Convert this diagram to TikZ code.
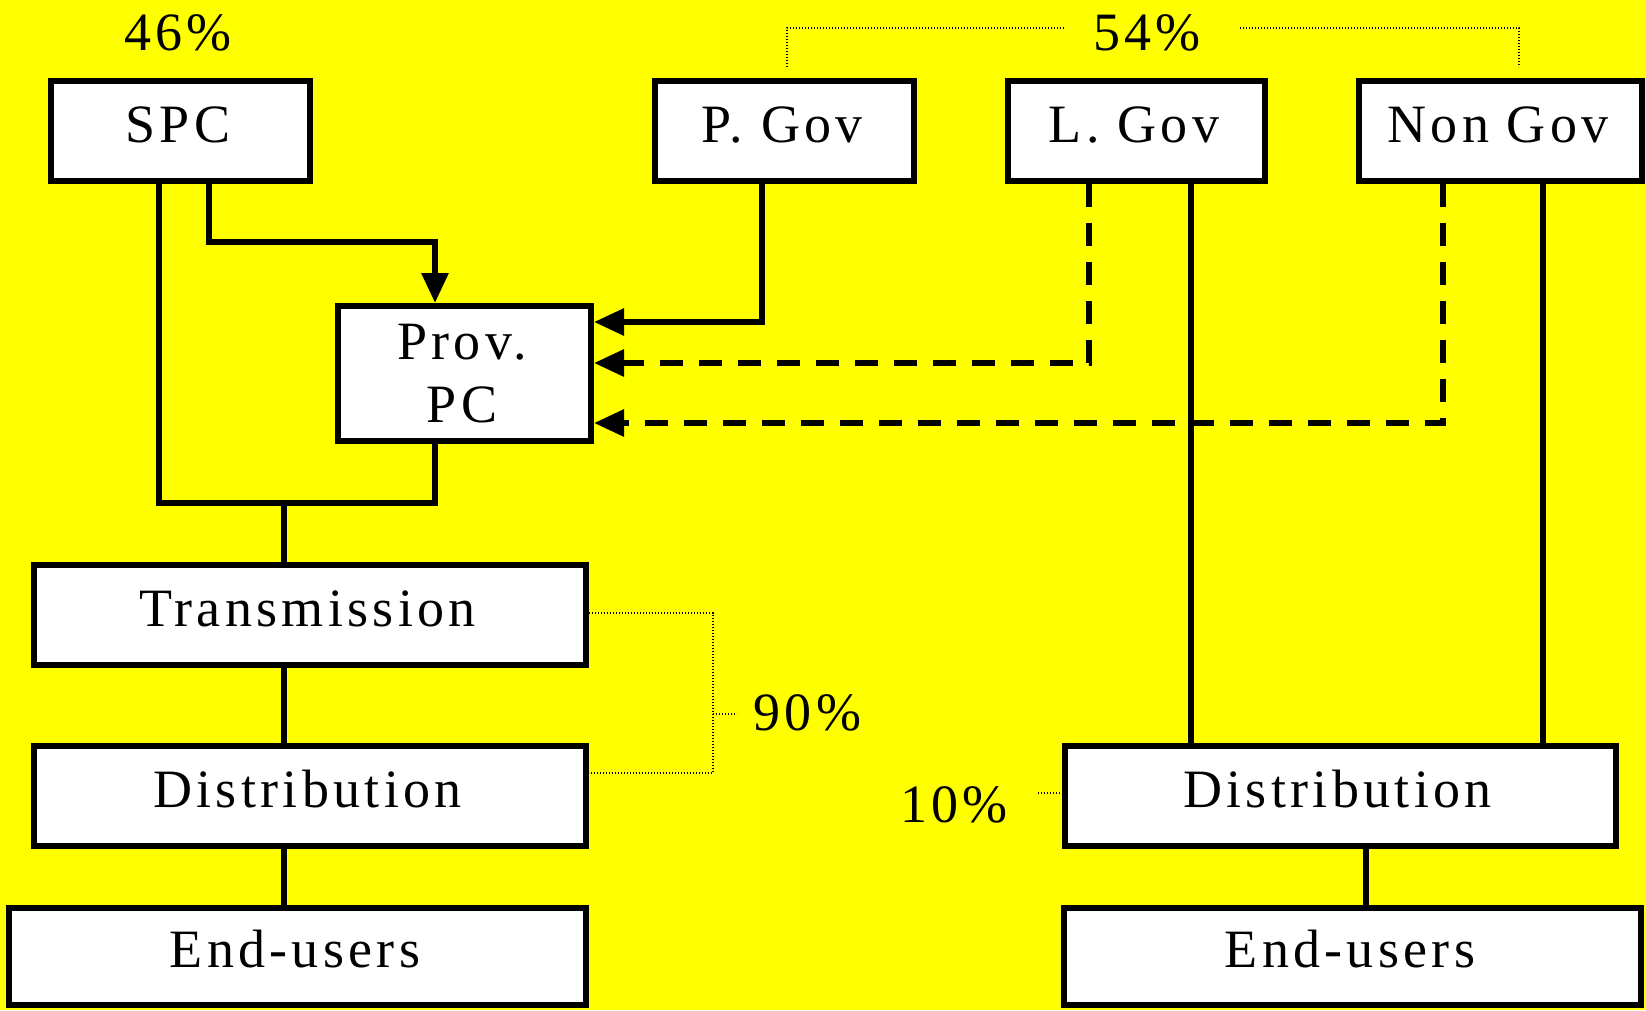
\documentclass[tikz,border=0pt]{standalone}
\usepackage{fontspec}
\setmainfont{Liberation Serif}[LetterSpace=8]
\usetikzlibrary{arrows.meta}
\definecolor{bgyellow}{RGB}{255,255,0}
\newcommand{\tk}{\kern5pt}
\begin{document}
\begin{tikzpicture}[x=1pt,y=-1pt,
  boxbase/.style={draw, line width=6pt, fill=white, inner sep=0pt,
    font=\fontsize{54}{63}\selectfont},
  box/.style={boxbase, text height=40pt, text depth=18pt},
  conn/.style={line width=6pt},
  arr/.style={conn, -{Triangle[length=30pt,width=26pt]}},
  dsh/.style={dash pattern=on 23pt off 16pt},
  dots/.style={line width=1.4pt, dash pattern=on 1.4pt off 1.6pt},
  pct/.style={font=\fontsize{54}{63}\selectfont, anchor=base, inner sep=0pt}]
\useasboundingbox (0,0) rectangle (1646,1010);
\fill[bgyellow] (0,0) rectangle (1646,1010);

% boxes
\node[box, minimum width=259pt, minimum height=100pt] (spc) at (180.5,131) {SPC\tk};
\node[box, minimum width=259pt, minimum height=100pt] (pgov) at (784.5,131) {P. Gov\tk};
\node[box, minimum width=257pt, minimum height=100pt] (lgov) at (1136.5,131) {L. Gov\tk};
\node[box, minimum width=283pt, minimum height=100pt] (ngov) at (1500.5,131) {Non Gov\tk};
\node[boxbase, align=center, minimum width=253pt, minimum height=135pt] (prov) at (464.5,373.5) {Prov.\tk\\PC\tk};
\node[box, minimum width=552pt, minimum height=100pt] (trans) at (310,615) {Transmission\tk};
\node[box, minimum width=552pt, minimum height=100pt] (distl) at (310,796) {Distribution\tk};
\node[box, minimum width=577pt, minimum height=97pt] (endl) at (297.5,956.5) {End-users\tk};
\node[box, minimum width=551pt, minimum height=100pt] (distr) at (1340,796) {Distribution\tk};
\node[box, minimum width=577pt, minimum height=97pt] (endr) at (1352.5,956.5) {End-users\tk};

% helper coordinates
\coordinate (s1) at (159,503);
\coordinate (s2) at (435,503);
\coordinate (j) at (284,503);
\coordinate (a1) at (209,242);
\coordinate (a2) at (435,242);
\coordinate (pg) at (762,322);
\coordinate (lg) at (1089,363);
\coordinate (ng) at (1443,423);
\coordinate (lgs) at (1191,0);
\coordinate (ngs) at (1543,0);
\coordinate (dr) at (1366,0);

% SPC and Prov. PC to Transmission
\draw[conn] (spc.south -| s1) -- (s1) -- (s2) -- (prov.south -| s2);
\draw[conn] (j) -- (trans.north -| j);
% SPC to Prov. PC
\draw[arr] (spc.south -| a1) |- (a2) -- (prov.north -| a2);
% P. Gov to Prov. PC
\draw[arr] (pgov.south -| pg) |- (prov.east |- pg);
% dashed
\draw[arr, dsh] (lgov.south -| lg) |- (prov.east |- lg);
\draw[arr, dsh] (ngov.south -| ng) |- (prov.east |- ng);
% to right distribution
\draw[conn] (lgov.south -| lgs) -- (distr.north -| lgs);
\draw[conn] (ngov.south -| ngs) -- (distr.north -| ngs);
% chains
\draw[conn] (trans.south -| j) -- (distl.north -| j);
\draw[conn] (distl.south -| j) -- (endl.north -| j);
\draw[conn] (distr.south -| dr) -- (endr.north -| dr);

% percentages
\node[pct] (p46) at (178,50) {46\%};
\node[pct] (p54) at (1147,50) {54\%};
\node[pct] (p90) at (807.5,730) {90\%};
\node[pct] (p10) at (954,822) {10\%};

% dotted brackets
\coordinate (t1) at (787,67);
\coordinate (t2) at (1065,28);
\coordinate (t3) at (1240,28);
\coordinate (t4) at (1519,67);
\draw[dots] (t1) |- (t2);
\draw[dots] (t3) -| (t4);
\coordinate (b1) at (713,613);
\coordinate (b2) at (713,773);
\coordinate (b3) at (737,714);
\draw[dots] (trans.east |- b1) -- (b1) -- (b2) -- (distl.east |- b2);
\draw[dots] (b1 |- b3) -- (b3);
\coordinate (c1) at (1038,793);
\draw[dots] (c1) -- (distr.west |- c1);
\end{tikzpicture}
\end{document}
